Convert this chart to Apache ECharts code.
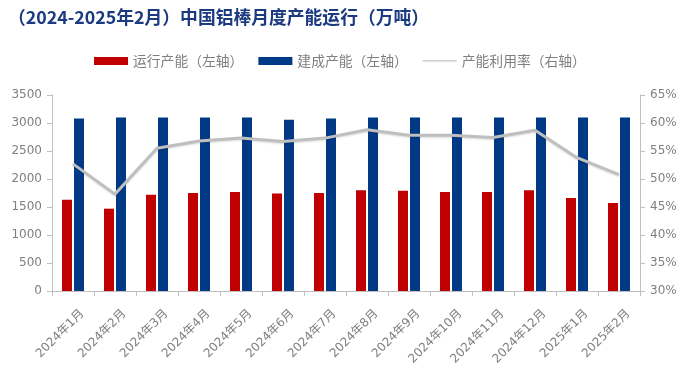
<!DOCTYPE html>
<html><head><meta charset="utf-8">
<script src="https://cdn.jsdelivr.net/npm/echarts@6/dist/echarts.min.js"></script>
<style>html,body{margin:0;padding:0;background:#fff}#c{width:689px;height:381px}</style>
</head><body><div id="c"></div>
<script>
var categories = ['2024年1月','2024年2月','2024年3月','2024年4月','2024年5月','2024年6月','2024年7月','2024年8月','2024年9月','2024年10月','2024年11月','2024年12月','2025年1月','2025年2月'];
var running = [1630,1470,1720,1750,1770,1740,1750,1800,1790,1770,1770,1800,1660,1570];
var built = [3080,3100,3100,3100,3100,3060,3080,3100,3100,3100,3100,3100,3100,3100];
var utilization = [52.7,47.3,55.5,56.8,57.3,56.7,57.3,58.8,57.8,57.8,57.4,58.7,53.8,50.8];
var leftTicks = [0,3500,500];
var rightTicks = [30,65,5];

var numFont = '"DejaVu Sans", "Noto Sans CJK SC", sans-serif';
var cjkFont = '"Noto Sans CJK SC", sans-serif';
var chart = echarts.init(document.getElementById('c'));
chart.setOption({
  animation: false,
  title: {
    text: '（2024-2025年2月）中国铝棒月度产能运行（万吨）',
    left: 3, top: 3,
    textStyle: {color: '#1c3a80', fontSize: 17.8, fontWeight: 'bold', fontFamily: cjkFont}
  },
  legend: {
    top: 49, left: 89,
    itemWidth: 34, itemHeight: 8, itemGap: 15,
    textStyle: {color: '#7f7f7f', fontSize: 13.8, fontFamily: cjkFont},
    data: [
      {name: '运行产能（左轴）', icon: 'rect'},
      {name: '建成产能（左轴）', icon: 'rect'},
      {name: '产能利用率（右轴）', icon: 'path://M0,3.4 L34,3.4 L34,4.6 L0,4.6 Z'}
    ]
  },
  grid: {left: 52, right: 49, top: 95, bottom: 90},
  xAxis: {
    type: 'category', data: categories, boundaryGap: true,
    axisLine: {lineStyle: {color: '#bfbfbf'}},
    axisTick: {show: true, alignWithLabel: false, length: 5, lineStyle: {color: '#bfbfbf'}},
    axisLabel: {rotate: 45, interval: 0, color: '#7f7f7f', fontSize: 12, fontFamily: numFont, margin: 30,
                padding: [0, -13, 0, 0]}
  },
  yAxis: [
    {type: 'value', min: leftTicks[0], max: leftTicks[1], interval: leftTicks[2],
     axisLine: {show: true, lineStyle: {color: '#bfbfbf'}},
     axisTick: {show: true, length: 5, lineStyle: {color: '#bfbfbf'}},
     splitLine: {show: false},
     axisLabel: {color: '#7f7f7f', fontSize: 12, fontFamily: numFont, margin: 10,
                 formatter: function (v) { return String(v); }}},
    {type: 'value', min: rightTicks[0], max: rightTicks[1], interval: rightTicks[2], position: 'right',
     axisLine: {show: true, lineStyle: {color: '#bfbfbf'}},
     axisTick: {show: true, length: 5, lineStyle: {color: '#bfbfbf'}},
     splitLine: {show: false},
     axisLabel: {color: '#7f7f7f', fontSize: 12, fontFamily: numFont, margin: 10, formatter: '{value}%'}}
  ],
  series: [
    {name: '运行产能（左轴）', type: 'bar', data: running, barWidth: 10, barGap: '20%',
     itemStyle: {color: '#c00000'}},
    {name: '建成产能（左轴）', type: 'bar', data: built, barWidth: 10,
     itemStyle: {color: '#003a86'}},
    {name: '产能利用率（右轴）', type: 'line', yAxisIndex: 1, data: utilization,
     showSymbol: false, symbol: 'none',
     lineStyle: {color: '#bfbfbf', width: 3, shadowColor: 'rgba(0,0,0,0.15)', shadowBlur: 2, shadowOffsetY: 1},
     itemStyle: {color: '#bfbfbf'}}
  ]
});
</script></body></html>
